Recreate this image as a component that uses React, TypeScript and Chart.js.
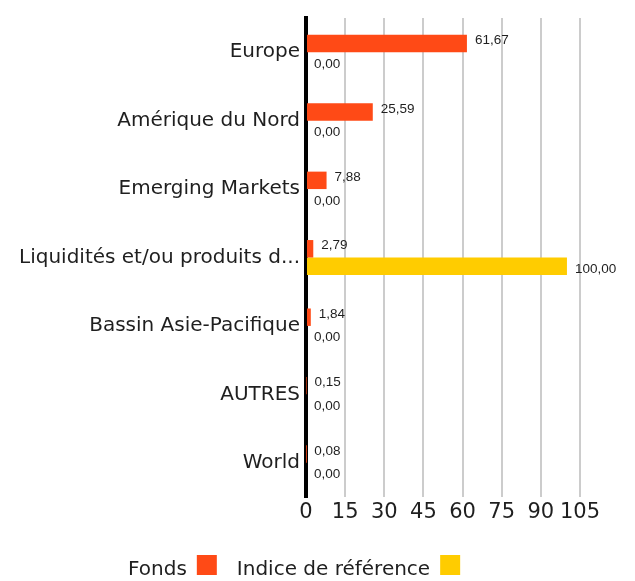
import React, { useEffect, useRef } from "react";
import { Chart, registerables } from "chart.js";

Chart.register(...registerables);

const categories = [
  "Europe",
  "Amérique du Nord",
  "Emerging Markets",
  "Liquidités et/ou produits d...",
  "Bassin Asie-Pacifique",
  "AUTRES",
  "World",
];
const fondsValues = [61.67, 25.59, 7.88, 2.79, 1.84, 0.15, 0.08];
const indiceValues = [0, 0, 0, 100, 0, 0, 0];
const seriesNames = ["Fonds", "Indice de référence"];
const seriesColors = ["#FF4A16", "#FFCC00"];
const xMin = 0;
const xMax = 105;
const xStep = 15;

const FONT = "'DejaVu Sans', 'Noto Sans', sans-serif";
const TEXT = "#1f1f1f";

const fmt = (v: number) => v.toFixed(2).replace(".", ",");

const valueLabels = {
  id: "valueLabels",
  afterDatasetsDraw(chart: any) {
    const ctx = chart.ctx;
    ctx.save();
    ctx.font = "13.5px 'Liberation Sans', Arial, sans-serif";
    ctx.fillStyle = TEXT;
    ctx.textAlign = "left";
    ctx.textBaseline = "middle";
    chart.data.datasets.forEach((ds: any, di: number) => {
      const meta = chart.getDatasetMeta(di);
      meta.data.forEach((bar: any, i: number) => {
        const dy = di === 0 ? -3 : 3;
        ctx.fillText(fmt(ds.data[i]), bar.x + 8, bar.y + dy);
      });
    });
    ctx.restore();
  },
};

const customLegend = {
  id: "customLegend",
  afterDraw(chart: any) {
    const ctx = chart.ctx;
    ctx.save();
    ctx.font = `20px ${FONT}`;
    ctx.textBaseline = "alphabetic";
    ctx.textAlign = "left";
    let x = 128;
    const baseline = 575;
    seriesNames.forEach((name, i) => {
      ctx.fillStyle = TEXT;
      ctx.fillText(name, x, baseline);
      x += ctx.measureText(name).width + 10;
      ctx.fillStyle = seriesColors[i];
      ctx.fillRect(x, 555, 20, 20);
      x += 20 + 20;
    });
    ctx.restore();
  },
};

export default function App() {
  const ref = useRef<HTMLCanvasElement | null>(null);
  useEffect(() => {
    if (!ref.current) return;
    const chart = new Chart(ref.current, {
      type: "bar",
      data: {
        labels: categories,
        datasets: [
          {
            label: seriesNames[0],
            data: fondsValues,
            backgroundColor: seriesColors[0],
            categoryPercentage: 0.51,
            barPercentage: 1,
          },
          {
            label: seriesNames[1],
            data: indiceValues,
            backgroundColor: seriesColors[1],
            categoryPercentage: 0.51,
            barPercentage: 1,
          },
        ],
      },
      options: {
        indexAxis: "y",
        animation: false,
        responsive: false,
        maintainAspectRatio: false,
        layout: { padding: { top: 17, right: 55, bottom: 50, left: 0 } },
        plugins: {
          legend: { display: false },
          tooltip: { enabled: false },
        },
        scales: {
          x: {
            min: xMin,
            max: xMax,
            ticks: {
              stepSize: xStep,
              color: TEXT,
              font: { size: 21, family: FONT },
              padding: 3,
              maxRotation: 0,
              minRotation: 0,
              autoSkip: false,
            },
            grid: {
              color: "#cccccc",
              lineWidth: 2,
              drawTicks: false,
            },
            border: { display: false },
            afterFit: (scale: any) => {
              scale.height = 34;
            },
          },
          y: {
            ticks: {
              color: TEXT,
              font: { size: 20, family: FONT },
              padding: 6,
            },
            grid: { display: false, drawTicks: false },
            border: { display: true, color: "#000000", width: 4 },
            afterFit: (scale: any) => {
              scale.width = 306;
            },
          },
        },
      },
      plugins: [valueLabels, customLegend],
    });
    return () => chart.destroy();
  }, []);
  return (
    <div style={{ position: "fixed", left: 0, top: 0, width: 635, height: 581, background: "#fff" }}>
      <canvas ref={ref} width={635} height={581} style={{ width: 635, height: 581 }} />
    </div>
  );
}
